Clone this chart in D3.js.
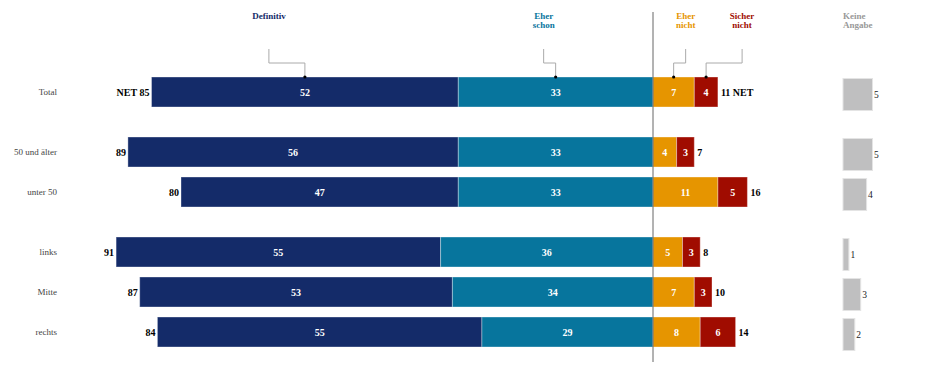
<!DOCTYPE html>
<html>
<head>
<meta charset="utf-8">
<script src="https://cdn.jsdelivr.net/npm/d3@7"></script>
<style>
  body { margin: 0; background: #fff; }
  svg text { font-family: "Liberation Serif", "Times New Roman", serif; }
</style>
</head>
<body>
<svg id="chart"></svg>
<script>
    // Daten
    var groups = [["Total"], ["50 und älter", "unter 50"], ["links", "Mitte", "rechts"]];
    var definitiv   = [52, 56, 47, 55, 53, 55];
    var eherSchon   = [33, 33, 33, 36, 34, 29];
    var eherNicht   = [7, 4, 11, 5, 7, 8];
    var sicherNicht = [4, 3, 5, 3, 3, 6];
    var netJa       = [85, 89, 80, 91, 87, 84];
    var netNein     = [11, 7, 16, 8, 10, 14];
    var keineAngabe = [5, 5, 4, 1, 3, 2];

    var seriesColors = ["#142b69", "#07759d", "#e69500", "#a00c00"];

    var width = 945, height = 378;
    var rowH = 30, rowStep = 40, groupGap = 20, topY = 77;

    var svg = d3.select("#chart")
        .attr("width", width)
        .attr("height", height);

    // Zeilen aus Gruppen
    var rows = [];
    groups.forEach(function(g, gi) {
        g.forEach(function(name) {
            rows.push({ name: name, group: gi });
        });
    });
    rows.forEach(function(r, i) {
        r.y = topY + i * rowStep + r.group * groupGap;
        r.vals = [-definitiv[i] - eherSchon[i], -eherSchon[i], 0, eherNicht[i], eherNicht[i] + sicherNicht[i]];
        r.raw = [definitiv[i], eherSchon[i], eherNicht[i], sicherNicht[i]];
        r.netJa = netJa[i];
        r.netNein = netNein[i];
        r.ka = keineAngabe[i];
    });

    var x = d3.scaleLinear()
        .domain([-100, 100])
        .range([63, 1243]);

    var kx = d3.scaleLinear()
        .domain([0, 100])
        .range([843, 1433]);

    rows.forEach(function(r, i) {
        var segs = [];
        for (var k = 0; k < 4; k++) {
            segs.push({ k: k, x0: x(r.vals[k]), x1: x(r.vals[k + 1]), v: r.raw[k] });
        }
        var g = svg.append("g");
        g.selectAll("rect")
            .data(segs)
            .enter().append("rect")
            .attr("x", function(d) { return d.x0; })
            .attr("y", r.y)
            .attr("width", function(d) { return d.x1 - d.x0; })
            .attr("height", rowH)
            .attr("fill", function(d) { return seriesColors[d.k]; })
            .attr("stroke", "rgba(255,255,255,0.35)")
            .attr("stroke-width", 1);
        g.selectAll("text.val")
            .data(segs)
            .enter().append("text")
            .attr("class", "val")
            .attr("x", function(d) { return (d.x0 + d.x1) / 2; })
            .attr("y", r.y + rowH / 2 + 3.5)
            .attr("text-anchor", "middle")
            .attr("fill", "#fff")
            .attr("font-weight", "bold")
            .attr("font-size", 10)
            .text(function(d) { return d.v; });

        // Zeilenbeschriftung
        svg.append("text")
            .attr("x", 57)
            .attr("y", r.y + rowH / 2 + 3)
            .attr("text-anchor", "end")
            .attr("fill", "#444")
            .attr("font-size", 9)
            .text(r.name);

        // Netto
        svg.append("text")
            .attr("x", x(r.vals[0]) - 2)
            .attr("y", r.y + rowH / 2 + 3.5)
            .attr("text-anchor", "end")
            .attr("fill", "#000")
            .attr("font-weight", "bold")
            .attr("font-size", 10)
            .text(i === 0 ? "NET " + r.netJa : r.netJa);
        svg.append("text")
            .attr("x", x(r.vals[4]) + 3)
            .attr("y", r.y + rowH / 2 + 3.5)
            .attr("fill", "#000")
            .attr("font-weight", "bold")
            .attr("font-size", 10)
            .text(i === 0 ? r.netNein + " NET" : r.netNein);

        // Keine Angabe
        svg.append("rect")
            .attr("x", kx(0))
            .attr("y", r.y + 1.5)
            .attr("width", kx(r.ka) - kx(0))
            .attr("height", rowH + 2)
            .attr("fill", "#bfbfc0")
            .attr("stroke", "#e4e4e4")
            .attr("stroke-width", 1);
        svg.append("text")
            .attr("x", kx(r.ka) + 1.5)
            .attr("y", r.y + rowH / 2 + 6)
            .attr("fill", "#222")
            .attr("font-size", 9.5)
            .text(r.ka);
    });

    // Nulllinie
    svg.append("line")
        .attr("x1", x(0)).attr("x2", x(0))
        .attr("y1", 12).attr("y2", 362)
        .attr("stroke", "#666")
        .attr("stroke-width", 1);

    // Kopfbeschriftung mit Hinweislinien (an der Total-Zeile)
    var r0 = rows[0];
    var offsets = [-36, -12, 12, 36];
    var headerLines = [["Definitiv"], ["Eher", "schon"], ["Eher", "nicht"], ["Sicher", "nicht"]];
    for (var k = 0; k < 4; k++) {
        var cx = (x(r0.vals[k]) + x(r0.vals[k + 1])) / 2;
        var lx = cx + offsets[k];
        svg.append("path")
            .attr("d", "M" + lx + ",49 V63 H" + cx + " V" + r0.y)
            .attr("fill", "none")
            .attr("stroke", "#aaa")
            .attr("stroke-width", 1);
        svg.append("circle")
            .attr("cx", cx).attr("cy", r0.y)
            .attr("r", 1.6)
            .attr("fill", "#000");
        var t = svg.append("text")
            .attr("text-anchor", "middle")
            .attr("fill", seriesColors[k])
            .attr("font-weight", "bold")
            .attr("font-size", 9);
        headerLines[k].forEach(function(s, j) {
            t.append("tspan").attr("x", lx).attr("y", 19 + j * 9).text(s);
        });
    }
    var ka = svg.append("text")
        .attr("fill", "#999")
        .attr("font-weight", "bold")
        .attr("font-size", 9);
    ["Keine", "Angabe"].forEach(function(s, j) {
        ka.append("tspan").attr("x", kx(0)).attr("y", 19 + j * 9).text(s);
    });
</script>
</body>
</html>
